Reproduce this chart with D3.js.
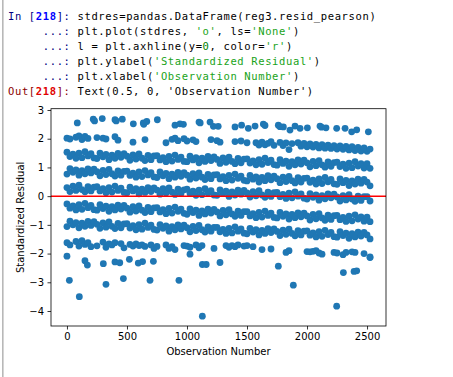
<!DOCTYPE html>
<html><head><meta charset="utf-8">
<script src="https://cdn.jsdelivr.net/npm/d3@7"></script>
<style>body{margin:0;background:#fff} svg{display:block}</style>
</head><body>
<svg id="c" width="453" height="377"></svg>
<script>
// ---- data (standardized residuals) ----
const obsStep = 25; // band samples every 25 observations, obs 0..2525
const b2 = [2.02,1.99,null,2.05,2.10,1.97,2.08,2.01,null,null,
 2.04,null,2.02,1.99,null,null,2.07,1.95,null,null,
 null,null,1.88,null,null,null,1.97,null,null,null,
 null,null,null,1.86,null,1.98,2.02,1.93,null,2.00,
 1.92,null,1.96,1.90,null,null,null,null,1.97,null,
 1.93,1.88,null,null,null,null,1.90,null,1.92,null,
 1.86,null,null,1.86,1.78,1.88,1.79,1.84,1.90,1.77,
 null,1.87,1.76,1.85,1.62,1.83,null,1.86,1.74,1.84,
 1.72,1.82,1.71,1.80,1.68,1.79,1.67,1.78,1.66,1.76,
 1.64,1.75,1.63,1.73,1.61,1.72,1.59,1.70,1.57,1.68,
 1.56,1.64];
const b1 = [1.53,1.38,1.46,1.32,1.50,1.34,1.55,1.40,1.48,1.33,
 1.31,1.50,1.37,1.45,1.27,1.43,1.32,1.49,1.35,1.48,
 1.39,1.25,1.44,1.29,1.47,1.32,1.24,1.42,1.27,1.40,
 1.41,1.26,1.34,1.20,1.38,1.22,1.43,1.28,1.36,1.21,
 1.20,1.39,1.26,1.34,1.16,1.32,1.21,1.38,1.24,1.37,
 1.28,1.14,1.33,1.18,1.36,1.21,1.13,1.31,1.16,1.29,
 1.30,1.15,1.23,1.09,1.27,1.11,1.32,1.17,1.25,1.10,
 1.08,1.27,1.14,1.22,1.04,1.20,1.09,1.26,1.12,1.25,
 1.16,1.02,1.21,1.06,1.24,1.09,1.01,1.19,1.04,1.17,
 1.18,1.03,1.11,0.97,1.15,0.99,1.20,1.05,1.13,0.98,
 1.13,0.97];
const b0a = [0.77,0.96,0.83,0.91,0.73,0.89,0.78,0.95,0.81,0.94,
 0.85,0.71,0.90,0.75,0.93,0.78,0.70,0.88,0.73,0.86,
 0.87,0.72,0.80,0.66,0.84,0.68,0.89,0.74,0.82,0.67,
 0.65,0.84,0.71,0.79,0.61,0.77,0.66,0.83,0.69,0.82,
 0.73,0.59,0.78,0.63,0.81,0.66,0.58,0.76,0.61,0.74,
 0.75,0.60,0.68,0.54,0.72,0.56,0.77,0.62,0.70,0.55,
 0.53,0.72,0.59,0.67,0.49,0.65,0.54,0.71,0.57,0.70,
 0.61,0.47,0.66,0.51,0.69,0.54,0.46,0.64,0.49,0.62,
 0.63,0.48,0.56,0.42,0.60,0.44,0.65,0.50,0.58,0.43,
 0.41,0.60,0.47,0.55,0.37,0.53,0.42,0.59,0.45,0.58,
 0.49,0.36];
const b0b = [0.30,0.16,0.35,0.20,0.38,0.23,0.15,0.33,0.18,0.31,
 0.33,0.18,0.26,0.12,0.30,0.14,0.35,0.20,0.28,0.13,
 0.12,0.31,0.18,0.26,0.08,0.24,0.13,0.30,0.16,0.29,
 0.21,0.07,0.26,0.11,0.29,0.14,0.06,0.24,0.09,0.22,
 0.24,0.09,0.17,0.03,0.21,0.05,0.26,0.11,0.19,0.04,
 0.03,0.22,0.09,0.17,-0.01,0.15,0.04,0.21,0.07,0.20,
 0.11,-0.03,0.16,0.01,0.19,0.04,-0.04,0.14,-0.01,0.12,
 0.13,-0.02,0.06,-0.08,0.10,-0.06,0.15,0.00,0.08,-0.07,
 -0.10,0.09,-0.04,0.04,-0.14,0.02,-0.09,0.08,-0.06,0.07,
 -0.03,-0.17,0.02,-0.13,0.05,-0.10,-0.18,0.00,-0.15,-0.02,
 -0.02,-0.17];
const bm1 = [-0.27,-0.42,-0.34,-0.48,-0.30,-0.46,-0.25,-0.40,-0.32,-0.47,
 -0.49,-0.30,-0.43,-0.35,-0.53,-0.37,-0.48,-0.31,-0.45,-0.32,
 -0.42,-0.56,-0.37,-0.52,-0.34,-0.49,-0.57,-0.39,-0.54,-0.41,
 -0.40,-0.55,-0.47,-0.61,-0.43,-0.59,-0.38,-0.53,-0.45,-0.60,
 -0.63,-0.44,-0.57,-0.49,-0.67,-0.51,-0.62,-0.45,-0.59,-0.46,
 -0.55,-0.69,-0.50,-0.65,-0.47,-0.62,-0.70,-0.52,-0.67,-0.54,
 -0.54,-0.69,-0.61,-0.75,-0.57,-0.73,-0.52,-0.67,-0.59,-0.74,
 -0.76,-0.57,-0.70,-0.62,-0.80,-0.64,-0.75,-0.58,-0.72,-0.59,
 -0.69,-0.83,-0.64,-0.79,-0.61,-0.76,-0.84,-0.66,-0.81,-0.68,
 -0.67,-0.82,-0.74,-0.88,-0.70,-0.86,-0.65,-0.80,-0.72,-0.87,
 -0.73,-0.89];
const bm2 = [-1.06,-0.87,-1.00,-0.92,-1.10,-0.94,-1.05,-0.88,-1.02,-0.89,
 -0.98,-1.12,-0.93,-1.08,-0.90,-1.05,-1.13,-0.95,-1.10,-0.97,
 -0.96,-1.11,-1.03,-1.17,-0.99,-1.15,-0.94,-1.09,-1.01,-1.16,
 -1.18,-0.99,-1.12,-1.04,-1.22,-1.06,-1.17,-1.00,-1.14,-1.01,
 -1.10,-1.24,-1.05,-1.20,-1.02,-1.17,-1.25,-1.07,-1.22,-1.09,
 -1.09,-1.24,-1.16,-1.30,-1.12,-1.28,-1.07,-1.22,-1.14,-1.29,
 -1.31,-1.12,-1.25,-1.17,-1.35,-1.19,-1.30,-1.13,-1.27,-1.14,
 -1.23,-1.37,-1.18,-1.33,-1.15,-1.30,-1.38,-1.20,-1.35,-1.22,
 -1.21,-1.36,-1.28,-1.42,-1.24,-1.40,-1.19,-1.34,-1.26,-1.41,
 -1.43,-1.24,-1.37,-1.29,-1.47,-1.31,-1.42,-1.25,-1.39,-1.26,
 -1.35,-1.49];
const bm3 = [-1.62,-1.70,null,-1.58,-1.74,-1.55,-1.68,-1.62,-1.76,null,
 -1.73,null,-1.60,-1.78,-1.66,-1.70,-1.62,null,-1.65,-1.80,
 null,-1.68,-1.74,-1.66,-1.72,-1.70,-1.75,null,-1.70,-1.82,
 -1.75,null,null,-1.70,-1.82,-1.76,-1.86,null,null,-1.72,
 -1.74,-1.78,null,-1.70,-1.80,-1.72,null,null,null,-1.82,
 null,null,null,-1.72,-1.78,-1.72,-1.76,-1.70,null,-1.74,
 -1.72,null,-1.76,null,null,-1.86,null,null,-1.84,null,
 null,null,null,-1.96,-1.90,null,null,null,null,null,
 -1.93,-1.94,-1.92,-1.90,-1.98,-2.02,null,null,null,-1.96,
 -1.98,null,-2.04,-1.96,null,-1.94,-1.96,null,null,-2.00,
 null,-2.12];
const topObs = [86,219,230,294,400,410,461,553,636,640,665,753,900,942,970,1100,1110,1192,1220,1260,1400,1455,1511,1567,1636,1650,1761,1775,1803,1858,1900,1942,2003,2108,2120,2158,2247,2317,2372,2414,2511];
const topRes = [2.55,2.68,2.62,2.70,2.66,2.62,2.68,2.52,2.55,2.50,2.60,2.66,2.47,2.52,2.50,2.58,2.55,2.58,2.43,2.43,2.41,2.47,2.36,2.44,2.51,2.46,2.47,2.42,2.41,2.30,2.44,2.36,2.38,2.44,2.40,2.38,2.36,2.36,2.24,2.31,2.24];
const lowObs = [0,20,103,150,170,303,325,400,440,470,520,594,630,692,720,933,1025,1128,1128,1160,1275,1761,1886,2247,2303,2392,2414,2525];
const lowRes = [-2.09,-2.93,-3.50,-2.25,-2.40,-2.35,-3.07,-2.29,-2.32,-2.87,-2.20,-2.33,-2.28,-2.93,-2.27,-2.93,-2.02,-2.38,-4.18,-2.38,-2.31,-2.44,-3.10,-3.83,-2.66,-2.62,-2.60,-2.14];
const xTicks = [0,500,1000,1500,2000,2500];
const yTicks = [-4,-3,-2,-1,0,1,2,3];

// ---- assemble points ----
const points = [];
[b2,b1,b0a,b0b,bm1,bm2,bm3].forEach(band => band.forEach((v,i) => { if (v !== null) points.push([i*obsStep, v]); }));
topObs.forEach((o,i) => points.push([o, topRes[i]]));
lowObs.forEach((o,i) => points.push([o, lowRes[i]]));
points.sort((a,b) => a[0]-b[0]);

const svg = d3.select("#c");
// notebook left border
svg.append("rect").attr("x",2).attr("y",0).attr("width",1.6).attr("height",377).attr("fill","#b8b8b8");

// ---- code cell text ----
const codeLines = [
 [["In [","#000080"],["218","#0000ff",true],["]: ","#000080"],["stdres=pandas.DataFrame(reg3.resid_pearson)","#000"]],
 [["     ...: ","#000080"],["plt.plot(stdres, ","#000"],["'o'","#19a319"],[", ls=","#000"],["'None'","#19a319"],[")","#000"]],
 [["     ...: ","#000080"],["l = plt.axhline(y=","#000"],["0","#007f00"],[", color=","#000"],["'r'","#19a319"],[")","#000"]],
 [["     ...: ","#000080"],["plt.ylabel(","#000"],["'Standardized Residual'","#19a319"],[")","#000"]],
 [["     ...: ","#000080"],["plt.xlabel(","#000"],["'Observation Number'","#19a319"],[")","#000"]],
 [["Out[","#8b0000"],["218","#e00000",true],["]: ","#8b0000"],["Text(0.5, 0, 'Observation Number')","#000"]]
];
const cw = 6.95, fs = 10.5;
codeLines.forEach((line, li) => {
  let col = 0;
  line.forEach(([t, c, b]) => {
    svg.append("text")
      .attr("x", 8 + col*cw).attr("y", 19.6 + li*15)
      .attr("xml:space","preserve")
      .style("font-family","'DejaVu Sans Mono', monospace")
      .style("font-size", fs+"px")
      .style("letter-spacing", (cw - 0.602*fs).toFixed(3)+"px")
      .style("font-weight", b ? "bold" : "normal")
      .attr("fill", c).text(t);
    col += t.length;
  });
});

// ---- plot ----
const L=51, R=386, T=108.7, B=326;
const x = d3.scaleLinear().domain([-133, 2658]).range([L, R]);
const y = d3.scaleLinear().domain([-4.522, 3.045]).range([B, T]);

svg.append("g").selectAll("circle").data(points).join("circle")
  .attr("cx", d => x(d[0])).attr("cy", d => y(d[1])).attr("r", 3.4)
  .attr("fill", "#1f77b4");

svg.append("line").attr("x1", L).attr("x2", R).attr("y1", y(0)).attr("y2", y(0))
  .attr("stroke", "#ff0000").attr("stroke-width", 1.5);

const font = "'DejaVu Sans', sans-serif";
const gx = svg.append("g").attr("transform", `translate(0,${B})`)
  .call(d3.axisBottom(x).tickValues(xTicks).tickFormat(d3.format("d")).tickSize(3.5).tickPadding(3.5));
const gy = svg.append("g").attr("transform", `translate(${L},0)`)
  .call(d3.axisLeft(y).tickValues(yTicks).tickFormat(d3.format("d")).tickSize(3.5).tickPadding(3.5));
[gx, gy].forEach(g => {
  g.select(".domain").remove();
  g.selectAll("line").attr("stroke", "#000").attr("stroke-width", 0.8);
  g.selectAll("text").style("font-family", font).style("font-size", "10px").attr("fill", "#000");
});

svg.append("rect").attr("x", L).attr("y", T).attr("width", R-L).attr("height", B-T)
  .attr("fill", "none").attr("stroke", "#000").attr("stroke-width", 0.8);

svg.append("text").attr("x", (L+R)/2).attr("y", 354.5).attr("text-anchor", "middle")
  .style("font-family", font).style("font-size", "10px").attr("fill", "#000").text("Observation Number");
svg.append("text").attr("transform", `translate(23.5,${(T+B)/2}) rotate(-90)`).attr("text-anchor", "middle")
  .style("font-family", font).style("font-size", "10px").attr("fill", "#000").text("Standardized Residual");
</script>
</body></html>
